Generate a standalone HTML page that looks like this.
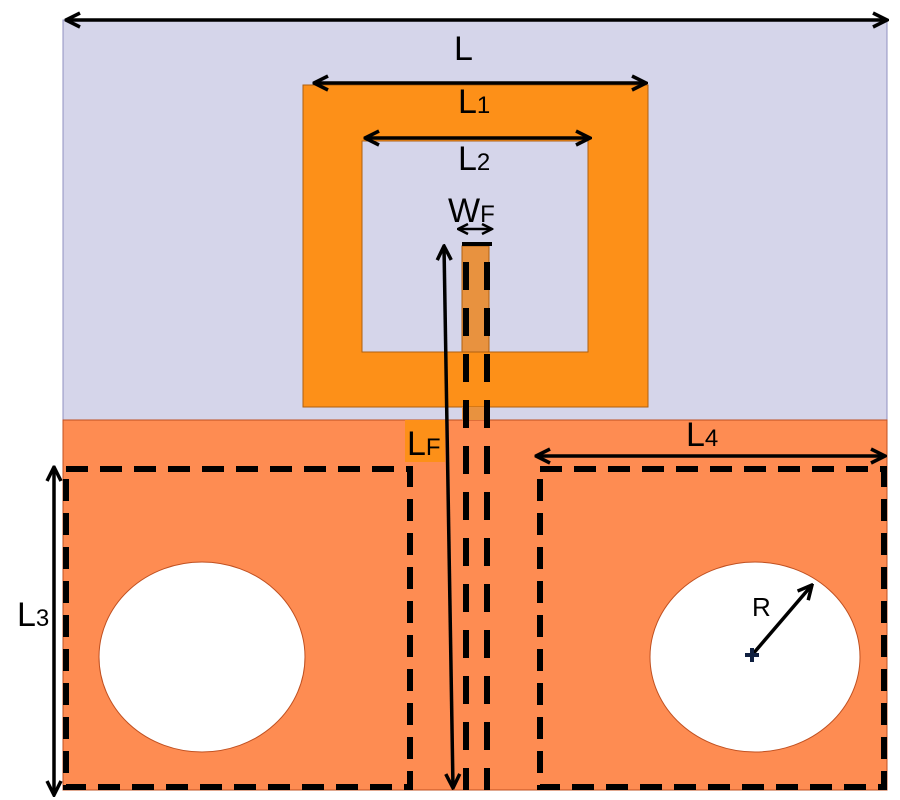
<!DOCTYPE html>
<html><head><style>body{margin:0;background:#fff}svg{display:block}</style></head>
<body>
<svg width="900" height="800" viewBox="0 0 900 800" xmlns="http://www.w3.org/2000/svg" font-family="Liberation Sans, sans-serif">
<defs>
<marker id="a" viewBox="0 0 10 10" refX="9" refY="5" markerWidth="5" markerHeight="5" orient="auto-start-reverse"><path d="M1,1 L9,5 L1,9" fill="none" stroke="#000" stroke-width="2"/></marker>
</defs>
<rect x="63" y="20" width="824" height="400" fill="#d5d5ea" stroke="#9090c0" stroke-width="1"/>
<rect x="63" y="420" width="824" height="370" fill="#fe8c52" stroke="#c05020" stroke-width="1"/>
<path d="M303,85 H648 V407 H303 Z M362,141 V352 H588 V141 Z" fill="#fd9018" fill-rule="evenodd" stroke="#b06010" stroke-width="1"/>
<rect x="462" y="246" width="27" height="106" fill="#e8923f" stroke="#b06010" stroke-width="1"/>
<rect x="462" y="407" width="27" height="13" fill="#e8923f"/>
<ellipse cx="202" cy="657" rx="103" ry="95" fill="#fff" stroke="#c05020" stroke-width="1"/>
<ellipse cx="755" cy="657" rx="105" ry="95" fill="#fff" stroke="#c05020" stroke-width="1"/>
<g fill="none" stroke="#000" stroke-width="6" stroke-dasharray="22,12">
<rect x="66" y="469" width="344" height="318"/>
<rect x="540" y="469" width="344" height="318"/>
</g>
<g stroke="#000" stroke-width="6" stroke-dasharray="28,18">
<line x1="466" y1="262" x2="466" y2="790"/>
<line x1="487" y1="262" x2="487" y2="790"/>
</g>
<line x1="462" y1="244" x2="492" y2="244" stroke="#000" stroke-width="4"/>
<g stroke="#000" stroke-width="3.5" fill="none" marker-start="url(#a)" marker-end="url(#a)">
<line x1="66" y1="20" x2="887" y2="20"/>
<line x1="314" y1="83" x2="646" y2="83"/>
<line x1="365" y1="138" x2="590" y2="138"/>
<line x1="458" y1="229" x2="492" y2="229" stroke-width="2.5"/>
<line x1="453" y1="788" x2="444" y2="246"/>
<line x1="536" y1="456" x2="885" y2="456"/>
<line x1="54" y1="467" x2="54" y2="795"/>
<line x1="752" y1="655" x2="812" y2="585" marker-start="none"/>
</g>
<path d="M745,655 H759 M752,648 V662" stroke="#102040" stroke-width="4"/>
<g font-size="34" fill="#000">
<text x="454" y="60">L</text>
<text x="458" y="113">L<tspan font-size="24">1</tspan></text>
<text x="458" y="170">L<tspan font-size="24">2</tspan></text>
<text x="448" y="222">W<tspan font-size="24">F</tspan></text>
<rect x="405" y="420" width="40" height="42" fill="#fd9018"/>
<text x="407" y="455">L<tspan font-size="24">F</tspan></text>
<text x="686" y="446">L<tspan font-size="24">4</tspan></text>
<text x="17" y="626">L<tspan font-size="24">3</tspan></text>
<text x="752" y="616" font-size="26">R</text>
</g>
</svg>
</body></html>
